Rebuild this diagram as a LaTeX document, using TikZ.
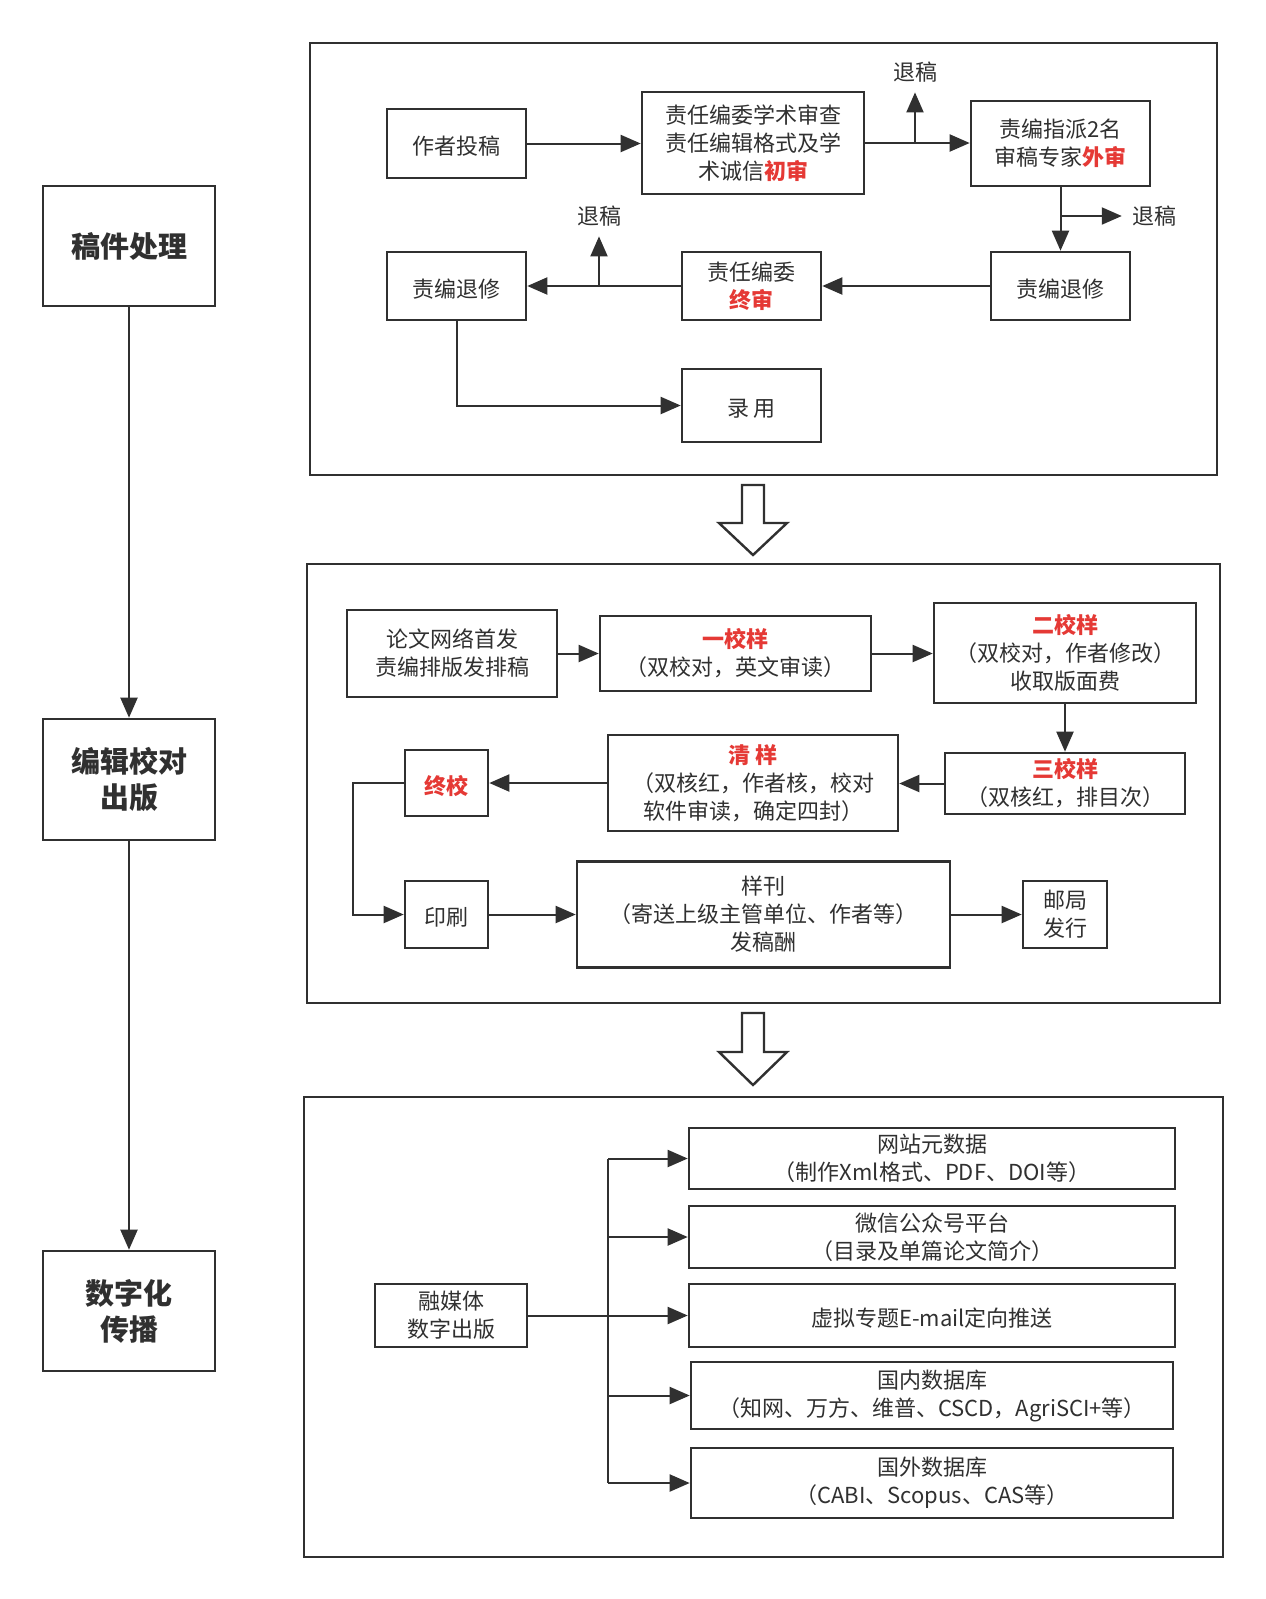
\documentclass[tikz,border=0pt]{standalone}
\usepackage{fontspec}
\setmainfont{Noto Sans CJK SC}
\usetikzlibrary{arrows.meta}
\definecolor{dk}{HTML}{303030}
\definecolor{rd}{HTML}{E53935}
\newcommand\redb[1]{\textcolor{rd}{\bfseries #1}}
\begin{document}
\begin{tikzpicture}[x=1pt,y=-1pt,
 boxbase/.style={draw=dk, line width=2.6pt, align=center, inner sep=0pt, text=dk},
 box/.style={boxbase, font=\fontsize{22}{28}\selectfont, execute at begin node={\rule{0pt}{24.5pt}}},
 panel/.style={draw=dk, line width=2.6pt, inner sep=0pt},
 arr/.style={draw=dk, line width=2pt, -{Triangle[length=20pt,width=17pt]}},
 ln/.style={draw=dk, line width=2pt},
 lbl/.style={inner sep=10pt, font=\fontsize{22}{28}\selectfont, text=dk},
 big/.style={boxbase, font=\fontsize{29}{36}\selectfont\bfseries},
 hollow/.style={draw=dk, line width=2.4pt, fill=white, line join=miter}]
\useasboundingbox (0,0) rectangle (1266,1599);
\fill[white] (0,0) rectangle (1266,1599);

% left column
\node[big, minimum width=172, minimum height=120] (s1) at (129,246) {稿件处理};
\node[big, minimum width=172, minimum height=121] (s2) at (129,779.5) {编辑校对\\出版};
\node[big, minimum width=172, minimum height=120] (s3) at (129,1311) {数字化\\传播};
\draw[arr] (s1) -- (s2);
\draw[arr] (s2) -- (s3);

% panels
\node[panel, minimum width=907, minimum height=432] (P1) at (763.5,259) {};
\node[panel, minimum width=913, minimum height=439] (P2) at (763.5,783.5) {};
\node[panel, minimum width=919, minimum height=460] (P3) at (763.5,1327) {};

% hollow arrows
\draw[hollow] (742,485) -- (764,485) -- (764,523) -- (787,523) -- (753,555) -- (719,523) -- (742,523) -- cycle;
\draw[hollow] (742,1013) -- (764,1013) -- (764,1052) -- (787,1052) -- (753,1085) -- (719,1052) -- (742,1052) -- cycle;

% panel 1
\node[box, minimum width=139, minimum height=69] (tougao) at (456.5,143.5) {作者投稿};
\node[box, minimum width=222, minimum height=102] (chushen) at (753,143) {责任编委学术审查\\责任编辑格式及学\\术诚信\redb{初审}};
\node[box, minimum width=179, minimum height=85] (waishen) at (1060.5,143.5) {责编指派2名\\审稿专家\redb{外审}};
\node[box, minimum width=139, minimum height=68] (xiuR) at (1060.5,286) {责编退修};
\node[box, minimum width=139, minimum height=68] (zhongshen) at (751.5,286) {责任编委\\\redb{终审}};
\node[box, minimum width=139, minimum height=68] (xiuL) at (456.5,286) {责编退修};
\node[box, minimum width=139, minimum height=73] (luyong) at (751.5,405.5) {录 用};
\node[lbl] (tg1) at (915,72) {退稿};
\node[lbl] (tg2) at (1154,216) {退稿};
\node[lbl] (tg3) at (599,216) {退稿};

\draw[arr] (tougao.east) -- (tougao.east -| chushen.west);
\draw[arr] (chushen.east) -- (chushen.east -| waishen.west);
\draw[arr] (tg1.south |- chushen.east) -- (tg1.south);
\draw[arr] (waishen) -- (xiuR);
\draw[arr] (waishen.south |- tg2.west) -- (tg2.west);
\draw[arr] (xiuR) -- (zhongshen);
\draw[arr] (zhongshen) -- (xiuL);
\draw[arr] (tg3.south |- xiuL.east) -- (tg3.south);
\draw[arr] (xiuL.south) |- (luyong.west);

% panel 2
\node[box, minimum width=210, minimum height=87] (lunwen) at (452,653.5) {论文网络首发\\责编排版发排稿};
\node[box, minimum width=271, minimum height=75] (yi) at (735.5,653.5) {\redb{一校样}\\（双校对，英文审读）};
\node[box, minimum width=262, minimum height=100] (er) at (1065,653) {\redb{二校样}\\（双校对，作者修改）\\收取版面费};
\node[box, minimum width=240, minimum height=61] (san) at (1065,783.5) {\redb{三校样}\\（双核红，排目次）};
\node[box, minimum width=290, minimum height=96] (qing) at (753,783) {\redb{清 样}\\（双核红，作者核，校对\\软件审读，确定四封）};
\node[box, minimum width=83, minimum height=66] (zj) at (446.5,783) {\redb{终校}};
\node[box, minimum width=83, minimum height=67] (ys) at (446.5,914.5) {印刷};
\node[box, minimum width=373, minimum height=106] (yk) at (763.5,914.5) {样刊\\（寄送上级主管单位、作者等）\\发稿酬};
\node[box, minimum width=84, minimum height=67] (yj) at (1065,914.5) {邮局\\发行};
\coordinate (bend) at (353,783);

\draw[arr] (lunwen.east) -- (lunwen.east -| yi.west);
\draw[arr] (yi.east) -- (yi.east -| er.west);
\draw[arr] (er.south) -- (san.north);
\draw[arr] (san.west) -- (san.west -| qing.east);
\draw[arr] (qing.west) -- (qing.west -| zj.east);
\draw[arr] (zj.west) -- (zj.west -| bend) |- (ys.west);
\draw[arr] (ys.east) -- (ys.east -| yk.west);
\draw[arr] (yk.east) -- (yk.east -| yj.west);

% panel 3
\node[box, minimum width=152, minimum height=63] (rong) at (451,1315.5) {融媒体\\数字出版};
\node[box, minimum width=486, minimum height=61] (d1) at (932,1158.5) {网站元数据\\（制作Xml格式、PDF、DOI等）};
\node[box, minimum width=486, minimum height=62] (d2) at (932,1237) {微信公众号平台\\（目录及单篇论文简介）};
\node[box, minimum width=486, minimum height=63] (d3) at (932,1315.5) {虚拟专题E-mail定向推送};
\node[box, minimum width=482, minimum height=67] (d4) at (932,1395.5) {国内数据库\\（知网、万方、维普、CSCD，AgriSCI+等）};
\node[box, minimum width=482, minimum height=70] (d5) at (932,1483) {国外数据库\\（CABI、Scopus、CAS等）};
\coordinate (bus) at (608,1315.5);
\draw[ln] (rong.east) -- (rong.east -| bus);
\draw[ln] (bus |- d1.west) -- (bus |- d5.west);
\foreach \d in {d1,d2,d3,d4,d5} \draw[arr] (bus |- \d.west) -- (\d.west);
\end{tikzpicture}
\end{document}
